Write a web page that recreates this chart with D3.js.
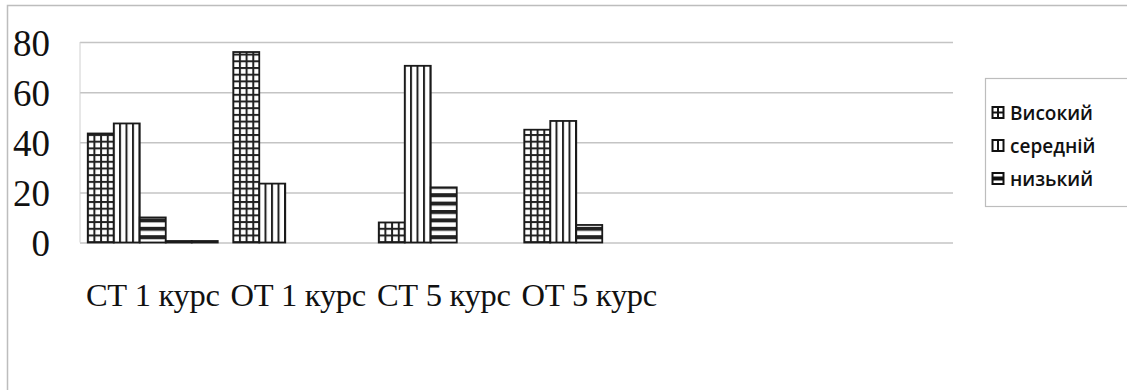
<!DOCTYPE html>
<html lang="uk">
<head>
<meta charset="UTF-8">
<title>Рівні</title>
<script src="https://d3js.org/d3.v7.min.js"></script>
<style>
  body { margin: 0; background: #fff; }
  svg { display: block; }
</style>
</head>
<body>
<script>
    const width = 1127;
    const height = 390;

    // data
    const categories = ["СТ 1 курс", "ОТ 1 курс", "СТ 5 курс", "ОТ 5 курс"];
    const slots = ["СТ 1 курс", "ОТ 1 курс", "СТ 5 курс", "ОТ 5 курс", "s5", "s6"]; // two empty slots on the right
    const seriesNames = ["Високий", "середній", "низький", "s4", "s5"];
    const vysokyi = [43.5, 76, 8, 45];
    const serednii = [47.5, 23.5, 70.5, 48.5];
    const nyzkyi = [10, 0, 22, 7];
    const s4 = [0.6, 0, 0, 0];
    const s5 = [0.6, 0, 0, 0];
    const yTicks = [0, 20, 40, 60, 80];
    const legendNames = ["Високий", "середній", "низький"];

    const seriesValues = [vysokyi, serednii, nyzkyi, s4, s5];
    const fills = ["url(#grid)", "url(#vert)", "url(#horiz)", "#111", "#111"];

    const plot = {left: 80, right: 953, top: 42, bottom: 242.5};

    const svg = d3.select("body").append("svg")
        .attr("width", width).attr("height", height);

    // patterns
    const defs = svg.append("defs");
    const grid = defs.append("pattern").attr("id", "grid")
        .attr("patternUnits", "userSpaceOnUse").attr("width", 6.7).attr("height", 6.7);
    grid.append("rect").attr("width", 6.7).attr("height", 6.7).attr("fill", "#fff");
    grid.append("rect").attr("width", 2).attr("height", 6.7).attr("fill", "#222");
    grid.append("rect").attr("width", 6.7).attr("height", 2).attr("fill", "#222");

    const vert = defs.append("pattern").attr("id", "vert")
        .attr("patternUnits", "userSpaceOnUse").attr("width", 6.5).attr("height", 10);
    vert.append("rect").attr("width", 6.5).attr("height", 10).attr("fill", "#fff");
    vert.append("rect").attr("width", 2).attr("height", 10).attr("fill", "#222");

    const horiz = defs.append("pattern").attr("id", "horiz")
        .attr("patternUnits", "userSpaceOnUse").attr("width", 10).attr("height", 8.4);
    horiz.append("rect").attr("width", 10).attr("height", 8.4).attr("fill", "#fff");
    horiz.append("rect").attr("width", 10).attr("height", 4).attr("fill", "#222");

    // chart border (cut at right and bottom)
    svg.append("path")
        .attr("d", `M7.5,${height + 2}V5.5H${width + 2}`)
        .attr("fill", "none").attr("stroke", "#bdbdbd").attr("stroke-width", 1.5);

    const x0 = d3.scaleBand().domain(slots).range([plot.left, plot.right]);
    const x1 = d3.scaleBand().domain(seriesNames)
        .range([7.75, x0.bandwidth() - 7.75]);
    const y = d3.scaleLinear().domain([0, 80]).range([plot.bottom, plot.top]);

    // gridlines
    svg.append("g")
        .attr("transform", `translate(${plot.left},0)`)
        .call(d3.axisLeft(y).tickValues(yTicks).tickSize(-(plot.right - plot.left)).tickFormat(""))
        .call(g => g.select(".domain").remove())
        .call(g => g.selectAll("line").attr("stroke", "#c4c4c4").attr("stroke-width", 1.5));

    svg.append("line")
        .attr("x1", plot.left).attr("x2", plot.left)
        .attr("y1", plot.top).attr("y2", plot.bottom)
        .attr("stroke", "#d0d0d0").attr("stroke-width", 1);

    // y labels
    svg.append("g")
        .attr("transform", `translate(${plot.left},0)`)
        .call(d3.axisLeft(y).tickValues(yTicks).tickSize(0).tickPadding(30))
        .call(g => g.select(".domain").remove())
        .call(g => g.selectAll("text")
            .attr("fill", "#111")
            .attr("dy", "0.36em")
            .style("font-family", "'Liberation Serif', 'Times New Roman', serif")
            .style("font-size", "37px"));

    // bars
    const groups = svg.selectAll("g.cat")
        .data(categories)
        .enter().append("g")
        .attr("class", "cat")
        .attr("transform", d => `translate(${x0(d)},0)`);

    groups.selectAll("rect")
        .data((d, i) => seriesNames.map((s, j) => ({s: s, j: j, v: seriesValues[j][i]})))
        .enter().append("rect")
        .filter(d => d.v > 0)
        .attr("x", d => x1(d.s))
        .attr("width", x1.bandwidth())
        .attr("y", d => y(d.v))
        .attr("height", d => y(0) - y(d.v))
        .attr("fill", d => fills[d.j])
        .attr("stroke", "#1a1a1a")
        .attr("stroke-width", 1.8);

    // category labels
    svg.append("g").selectAll("text")
        .data(categories)
        .enter().append("text")
        .attr("x", d => x0(d) + x0.bandwidth() / 2)
        .attr("y", 306)
        .attr("text-anchor", "middle")
        .attr("fill", "#111")
        .style("font-family", "'Liberation Serif', 'Times New Roman', serif")
        .style("font-size", "32.5px")
        .style("letter-spacing", "-0.3px")
        .text(d => d);

    // legend
    const legend = svg.append("g");
    legend.append("rect")
        .attr("x", 985.5).attr("y", 78.5).attr("width", 150).attr("height", 128)
        .attr("fill", "#fff").attr("stroke", "#bdbdbd").attr("stroke-width", 1.2);

    const ly = d3.scalePoint().domain(legendNames).range([113, 179]);
    const items = legend.selectAll("g.item")
        .data(legendNames)
        .enter().append("g")
        .attr("class", "item")
        .attr("transform", d => `translate(992,${ly(d)})`);

    items.append("rect")
        .attr("x", 0.5).attr("y", -6).attr("width", 11).attr("height", 11)
        .attr("fill", "#fff").attr("stroke", "#111").attr("stroke-width", 2);
    items.filter((d, i) => i === 0).append("path")
        .attr("d", "M6,-6V5M0.5,-0.5H11.5")
        .attr("stroke", "#111").attr("stroke-width", 2);
    items.filter((d, i) => i === 1).append("path")
        .attr("d", "M6,-6V5")
        .attr("stroke", "#111").attr("stroke-width", 2);
    items.filter((d, i) => i === 2).append("rect")
        .attr("x", 0.5).attr("y", -2.5).attr("width", 11).attr("height", 4)
        .attr("fill", "#111");

    items.append("text")
        .attr("x", 18).attr("y", 0).attr("dy", "0.36em")
        .attr("fill", "#111")
        .style("font-family", "'Open Sans', 'Noto Sans', sans-serif")
        .style("font-size", "19px")
        .style("font-weight", 600)
        .text(d => d);
</script>
</body>
</html>
